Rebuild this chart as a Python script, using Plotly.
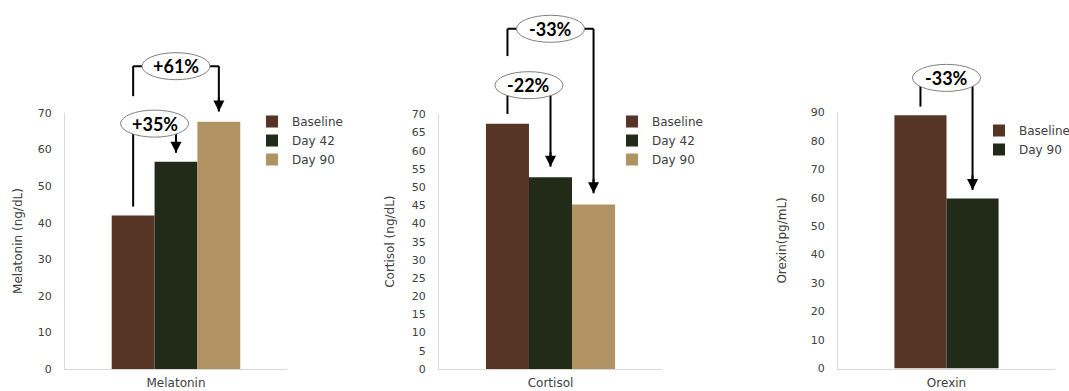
import plotly.graph_objects as go

W, H = 1069, 391

# ---- data -------------------------------------------------------------
PALETTE = ["#563426", "#212b18", "#b09263"]   # 1st, 2nd, 3rd time point

melatonin_series = ["Baseline", "Day 42", "Day 90"]
melatonin_values = [42.0, 56.7, 67.6]          # ng/dL

cortisol_series = ["Baseline", "Day 42", "Day 90"]
cortisol_values = [67.4, 52.7, 45.2]           # ng/dL

orexin_series = ["Baseline", "Day 90"]
orexin_values = [89.0, 59.7]                   # pg/mL

melatonin_changes = [("Baseline", "Day 42", "+35%"), ("Baseline", "Day 90", "+61%")]
cortisol_changes = [("Baseline", "Day 42", "-22%"), ("Baseline", "Day 90", "-33%")]
orexin_changes = [("Baseline", "Day 90", "-33%")]

# ---- layout constants -------------------------------------------------
FONT = "DejaVu Sans"
TEXT = "#404040"
AXIS = "#d9d9d9"


def px_dom(a, b, total):
    return [a / total, b / total]


panels = [
    dict(cat="Melatonin", title="Melatonin (ng/dL)", series=melatonin_series,
         values=melatonin_values, changes=melatonin_changes,
         xdom=px_dom(65, 287, W), ydom=[(H - 369) / H, (H - 113) / H],
         ymax=70, dtick=10, bar_w=0.193, standoff=12,
         # callout levels: label centre, start of the left leg, gap above tip
         callouts=[dict(label_y=67.1, from_end=44.4, gap=2.4),
                   dict(label_y=82.8, from_end=74.6, gap=2.8)],
         legend=dict(x=252, y=107)),
    dict(cat="Cortisol", title="Cortisol (ng/dL)", series=cortisol_series,
         values=cortisol_values, changes=cortisol_changes,
         xdom=px_dom(439, 662, W), ydom=[(H - 369) / H, (H - 114.3) / H],
         ymax=70, dtick=5, bar_w=0.193, standoff=14,
         callouts=[dict(label_y=78.0, from_end=70.1, gap=2.9),
                   dict(label_y=93.5, from_end=86.0, gap=3.1)],
         legend=dict(x=612, y=107)),
    dict(cat="Orexin", title="Orexin(pg/mL)", series=orexin_series,
         values=orexin_values, changes=orexin_changes,
         xdom=px_dom(838, 1055, W), ydom=[(H - 368.5) / H, (H - 112.3) / H],
         ymax=90, dtick=10, bar_w=0.24, standoff=21,
         callouts=[dict(label_y=102.1, from_end=92.0, gap=3.0)],
         legend=dict(x=979, y=116)),
]

fig = go.Figure()
layout = dict(
    width=W, height=H, margin=dict(l=0, r=0, t=0, b=0, autoexpand=False),
    paper_bgcolor="white", plot_bgcolor="rgba(0,0,0,0)",
    barmode="overlay", showlegend=True,
    font=dict(family=FONT, color=TEXT, size=12),
)
shapes, annotations = [], []

for i, p in enumerate(panels):
    n = i + 1
    sfx = "" if n == 1 else str(n)
    xref, yref = f"x{sfx}", f"y{sfx}"
    over = f"y{n + 3}"                       # taller twin axis for the callouts
    legend_name = "legend" if n == 1 else f"legend{n}"

    k = len(p["series"])
    w = p["bar_w"]
    centers = {}
    for j, (s, v) in enumerate(zip(p["series"], p["values"])):
        off = -k * w / 2 + j * w
        centers[s] = off + w / 2
        fig.add_trace(go.Bar(
            x=[p["cat"]], y=[v], name=s, width=w, offset=off,
            marker=dict(color=PALETTE[j], line=dict(width=0)),
            xaxis=xref, yaxis=yref, legend=legend_name,
            hovertemplate=f"{s}: %{{y}}<extra></extra>",
        ))
    # invisible point so the callout axis gets its own subplot/clip region
    fig.add_trace(go.Scatter(x=[p["cat"]], y=[0], mode="markers",
                             marker=dict(opacity=0), showlegend=False,
                             hoverinfo="skip", xaxis=xref, yaxis=over))

    d0, d1 = p["ydom"]
    layout[f"xaxis{sfx}"] = dict(
        domain=p["xdom"], anchor=yref, range=[-0.5, 0.5], type="category",
        showline=True, linecolor=AXIS, linewidth=1, ticks="",
        ticklabelstandoff=3, showgrid=False, zeroline=False,
        tickfont=dict(family=FONT, size=12, color=TEXT), fixedrange=True,
    )
    layout[f"yaxis{sfx}"] = dict(
        domain=p["ydom"], anchor=xref, range=[0, p["ymax"]], dtick=p["dtick"],
        showline=True, linecolor=AXIS, linewidth=1, ticks="",
        ticklabelstandoff=10, showgrid=False, zeroline=False,
        tickfont=dict(family=FONT, size=11, color=TEXT),
        title=dict(text=p["title"], standoff=p["standoff"],
                   font=dict(family=FONT, size=12, color=TEXT)),
        fixedrange=True,
    )
    layout[f"yaxis{n + 3}"] = dict(
        domain=[d0, 1.0], anchor=xref,
        range=[0, p["ymax"] * (1 - d0) / (d1 - d0)],
        visible=False, fixedrange=True,
    )
    lg = p["legend"]
    layout[legend_name] = dict(
        x=lg["x"] / W, y=1 - lg["y"] / H, xanchor="left", yanchor="top",
        bgcolor="rgba(0,0,0,0)", borderwidth=0,
        font=dict(family=FONT, size=12, color=TEXT), tracegroupgap=0,
    )

    vals = dict(zip(p["series"], p["values"]))
    for (a, b, label), c in zip(p["changes"], p["callouts"]):
        xa, xb = centers[a], centers[b]
        mid = (xa + xb) / 2
        ly = c["label_y"]
        tip = vals[b] + c["gap"]
        line = dict(color="black", width=2)
        for x0, y0, x1, y1 in [(xa, c["from_end"], xa, ly), (xa, ly, xb, ly), (xb, ly, xb, tip)]:
            shapes.append(dict(type="line", xref=xref, yref=over,
                               x0=x0, y0=y0, x1=x1, y1=y1, line=line))
        shapes.append(dict(type="circle", xref=xref, yref=over,
                           xsizemode="pixel", ysizemode="pixel",
                           xanchor=mid, yanchor=ly, x0=-34, x1=34, y0=-13.5, y1=13.5,
                           fillcolor="white", line=dict(color="#808080", width=1)))
        annotations.append(dict(x=mid, y=ly, xref=xref, yref=over, text=label,
                                showarrow=False,
                                font=dict(family="Lato", size=18, color="black", weight=700)))
        annotations.append(dict(x=xb, y=tip, xref=xref, yref=over, text="",
                                showarrow=True, ax=0, ay=-16, arrowhead=2,
                                arrowsize=1.1, arrowwidth=2, arrowcolor="black",
                                standoff=0))

layout["shapes"] = shapes
layout["annotations"] = annotations
fig.update_layout(**layout)
fig.write_html("out.html")
